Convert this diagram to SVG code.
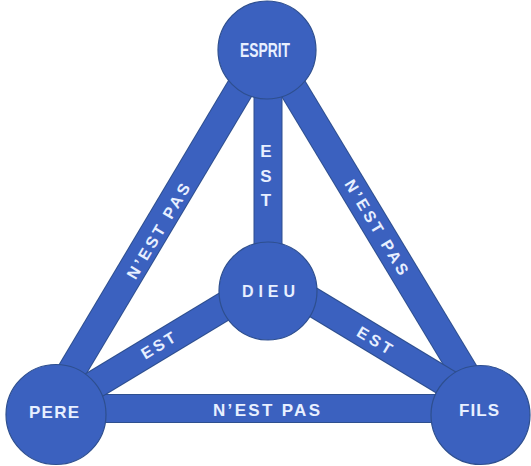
<svg xmlns="http://www.w3.org/2000/svg" width="531" height="466" viewBox="0 0 531 466">
<style>
.eo{stroke:#2E4F8F;stroke-width:29;fill:none}
.ei{stroke:#3B61BF;stroke-width:27;fill:none}
.node{fill:#3B61BF;stroke:#2E4F8F;stroke-width:1.2}
.t{font-family:"Liberation Sans",Arial,sans-serif;font-weight:bold;fill:#E8F0FF}
</style>
<rect width="531" height="466" fill="#ffffff"/>
<g id="connectors">
  <g id="e-esprit-pere"><line class="eo" x1="263" y1="50" x2="46" y2="414"/><line class="ei" x1="263" y1="50" x2="46" y2="414"/></g>
  <g id="e-esprit-fils"><line class="eo" x1="270" y1="50" x2="490" y2="415"/><line class="ei" x1="270" y1="50" x2="490" y2="415"/></g>
  <g id="e-esprit-dieu"><line class="eo" x1="268" y1="50" x2="268" y2="291"/><line class="ei" x1="268" y1="50" x2="268" y2="291"/></g>
  <g id="e-pere-fils"><line class="eo" x1="56" y1="408.5" x2="480" y2="408.5"/><line class="ei" x1="56" y1="408.5" x2="480" y2="408.5"/></g>
  <g id="e-dieu-pere"><line class="eo" x1="268" y1="280" x2="56" y2="408"/><line class="ei" x1="268" y1="280" x2="56" y2="408"/></g>
  <g id="e-dieu-fils"><line class="eo" x1="268" y1="275" x2="480" y2="403"/><line class="ei" x1="268" y1="275" x2="480" y2="403"/></g>
  <text class="t" font-size="16" text-anchor="middle" transform="translate(158,231) rotate(-59.2)" y="6" textLength="108" lengthAdjust="spacing">N’EST PAS</text>
  <text class="t" font-size="16" text-anchor="middle" transform="translate(377,227) rotate(58.9)" y="6" textLength="108" lengthAdjust="spacing">N’EST PAS</text>
  <text class="t" font-size="16" text-anchor="middle" transform="translate(158,345) rotate(-31)" y="6" textLength="37" lengthAdjust="spacing">EST</text>
  <text class="t" font-size="16" text-anchor="middle" transform="translate(375,340) rotate(31)" y="6" textLength="38" lengthAdjust="spacing">EST</text>
  <text class="t" font-size="17" text-anchor="middle" x="266.5" y="416" textLength="107" lengthAdjust="spacing">N’EST PAS</text>
  <text class="t" font-size="17" text-anchor="middle" x="266">
    <tspan x="266" y="157">E</tspan><tspan x="266" y="182">S</tspan><tspan x="266" y="206">T</tspan>
  </text>
</g>
<g id="esprit"><circle class="node" cx="267" cy="50" r="49"/><text class="t" font-size="19.5" text-anchor="middle" x="265" y="57" textLength="50" lengthAdjust="spacingAndGlyphs">ESPRIT</text></g>
<g id="dieu"><circle class="node" cx="268" cy="291" r="49"/><text class="t" font-size="16" text-anchor="middle" x="268.5" y="297" textLength="53" lengthAdjust="spacing">DIEU</text></g>
<g id="pere"><circle class="node" cx="56" cy="414.5" r="50"/><text class="t" font-size="17" text-anchor="middle" x="54" y="418" textLength="50" lengthAdjust="spacing">PERE</text></g>
<g id="fils"><circle class="node" cx="480.5" cy="415" r="49.5"/><text class="t" font-size="17" text-anchor="middle" x="479" y="416" textLength="40" lengthAdjust="spacing">FILS</text></g>
</svg>
